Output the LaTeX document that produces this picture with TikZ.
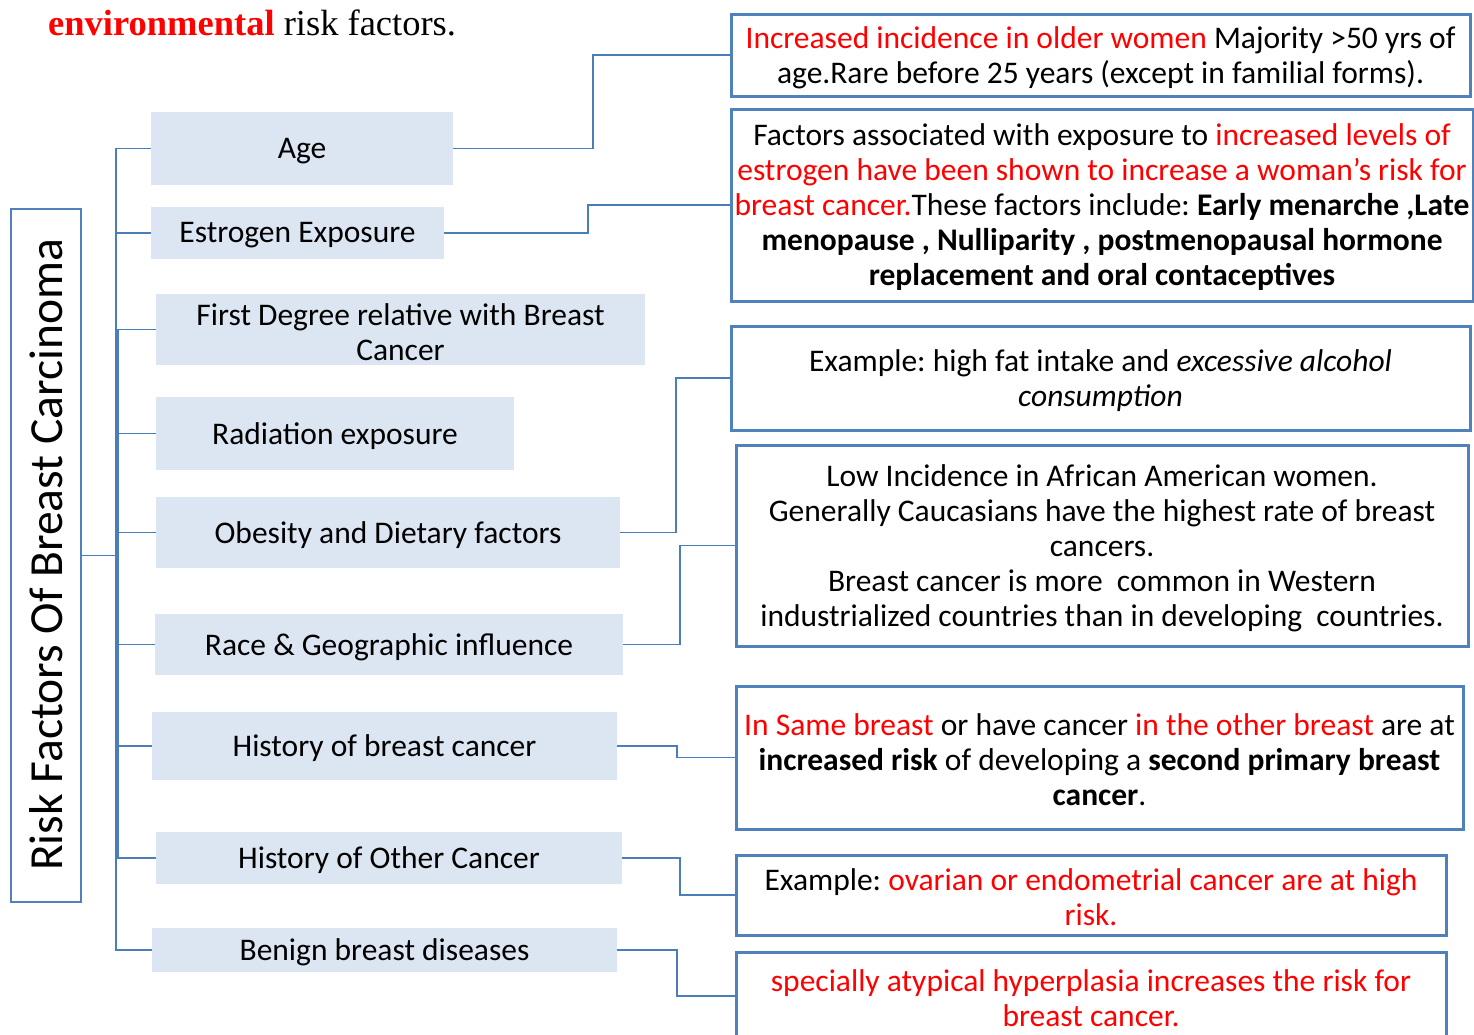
\documentclass[tikz,border=0pt]{standalone}
\usepackage{fontspec}
\setmainfont{Carlito}
\newfontfamily\serifx{Liberation Serif}
\definecolor{lfill}{HTML}{DCE6F2}
\definecolor{bord}{HTML}{4F81BD}
\definecolor{connc}{HTML}{4A7EBB}
\definecolor{redt}{HTML}{FF0000}
\newcommand{\rd}[1]{\textcolor{redt}{#1}}
\frenchspacing
\begin{document}
\begin{tikzpicture}[x=1pt,y=-1pt,
  lbox/.style={fill=lfill, inner sep=0pt},
  rbox/.style={draw=bord, line width=3pt, inner sep=0pt},
  ltext/.style={inner sep=0pt, align=center, yshift=-2.5pt, font=\fontsize{31.5}{35}\selectfont},
  rtext/.style={inner sep=0pt, align=center, yshift=-2.5pt, font=\fontsize{31.5}{35}\selectfont},
  mbox/.style={draw=bord, line width=2.5pt, inner sep=0pt},
  conn/.style={draw=connc, line width=1.5pt}]
\clip (0,0) rectangle (1474,1034);
\fill[white] (0,0) rectangle (1474,1034);

% top text
\node[anchor=base west, inner sep=0pt, font=\serifx\fontsize{36.5}{40}\selectfont] (toptxt) at (48,35) {\textbf{\rd{environmental}} risk factors.};

% main box
\node[mbox, minimum width=70pt, minimum height=693pt] (main) at (46,555.5) {};
\node[rotate=90, inner sep=0pt, font=\fontsize{47.5}{50}\selectfont] (title) at (46,555) {Risk Factors Of Breast Carcinoma};

% left boxes
\node[lbox, minimum width=302pt, minimum height=73pt] (age) at (302,148.5) {};
\node[lbox, minimum width=293pt, minimum height=52pt] (estro) at (297.5,233) {};
\node[lbox, minimum width=489pt, minimum height=71pt] (first) at (400.5,329.5) {};
\node[lbox, minimum width=358pt, minimum height=73pt] (rad) at (335,433.5) {};
\node[lbox, minimum width=464pt, minimum height=71pt] (obes) at (388,532.5) {};
\node[lbox, minimum width=468pt, minimum height=61pt] (race) at (389,644.5) {};
\node[lbox, minimum width=465pt, minimum height=68pt] (hist) at (384.5,746) {};
\node[lbox, minimum width=466pt, minimum height=52pt] (other) at (389,858) {};
\node[lbox, minimum width=465pt, minimum height=44pt] (benign) at (384.5,950) {};

\node[ltext] (ageT) at (age.center) {Age};
\node[ltext] (estroT) at (estro.center) {Estrogen Exposure};
\node[ltext] (firstT) at (first.center) {First Degree relative with Breast\\Cancer};
\node[ltext] (radT) at (rad.center) {Radiation exposure};
\node[ltext] (obesT) at (obes.center) {Obesity and Dietary factors};
\node[ltext] (raceT) at (race.center) {Race \& Geographic influence};
\node[ltext] (histT) at (hist.center) {History of breast cancer};
\node[ltext] (otherT) at (other.center) {History of Other Cancer};
\node[ltext] (benignT) at (benign.center) {Benign breast diseases};

% right boxes
\node[rbox, minimum width=739pt, minimum height=82pt] (r1) at (1100.5,55) {};
\node[rbox, minimum width=742pt, minimum height=192pt] (r2) at (1102,205) {};
\node[rbox, minimum width=739pt, minimum height=104pt] (r3) at (1100.5,378) {};
\node[rbox, minimum width=732pt, minimum height=201pt] (r4) at (1102,545.5) {};
\node[rbox, minimum width=727pt, minimum height=143pt] (r5) at (1099.5,757.5) {};
\node[rbox, minimum width=710pt, minimum height=80pt] (r6) at (1091,895) {};
\node[rbox, minimum width=710pt, minimum height=88pt] (r7) at (1091,996) {};

\node[rtext] (r1T) at (r1.center) {\rd{Increased incidence in older women} Majority >50 yrs of\\age.Rare before 25 years (except in familial forms).};
\node[rtext] (r2T) at (r2.center) {Factors associated with exposure to \rd{increased levels of}\\\rd{estrogen have been shown to increase a woman’s risk for}\\\rd{breast cancer.}These factors include: \textbf{Early menarche ,Late}\\\textbf{menopause , Nulliparity , postmenopausal hormone}\\\textbf{replacement and oral contaceptives}};
\node[rtext] (r3T) at (r3.center) {Example: high fat intake and \textit{excessive alcohol}\\\textit{consumption}};
\node[rtext] (r4T) at (r4.center) {Low Incidence in African American women.\\Generally Caucasians have the highest rate of breast\\cancers.\\Breast cancer is more\ \ common in Western\\industrialized countries than in developing\ \ countries.};
\node[rtext] (r5T) at (r5.center) {\rd{In Same breast} or have cancer \rd{in the other breast} are at\\\textbf{increased risk} of developing a \textbf{second primary breast}\\\textbf{cancer}.};
\node[rtext] (r6T) at (r6.center) {Example: \rd{ovarian or endometrial cancer are at high}\\\rd{risk.}};
\node[rtext] (r7T) at (r7.center) {\rd{specially atypical hyperplasia increases the risk for}\\\rd{breast cancer.}};

% trunk coordinates
\coordinate (tA) at (116,555.5);
\coordinate (tB) at (118,555.5);

% left connectors
\draw[conn] (main.east) -- (tB);
\draw[conn] (age.west) -| (tA);
\draw[conn] (estro.west) -| (tA);
\draw[conn] (hist.west) -| (tA);
\draw[conn] (benign.west) -| (tA);
\draw[conn] (first.west) -| (tB);
\draw[conn] (rad.west) -| (tB);
\draw[conn] (obes.west) -| (tB);
\draw[conn] (race.west) -| (tB);
\draw[conn] (other.west) -| (tB);

% right connectors
\draw[conn] (age.east) -- ++(140,0) |- (r1.west);
\draw[conn] (estro.east) -- ++(144,0) |- (r2.west);
\draw[conn] (obes.east) -- ++(56,0) |- (r3.west);
\draw[conn] (race.east) -- ++(57,0) |- (r4.west);
\draw[conn] (hist.east) -- ++(60,0) |- (r5.west);
\draw[conn] (other.east) -- ++(58,0) |- (r6.west);
\draw[conn] (benign.east) -- ++(60,0) |- (r7.west);
\end{tikzpicture}
\end{document}
